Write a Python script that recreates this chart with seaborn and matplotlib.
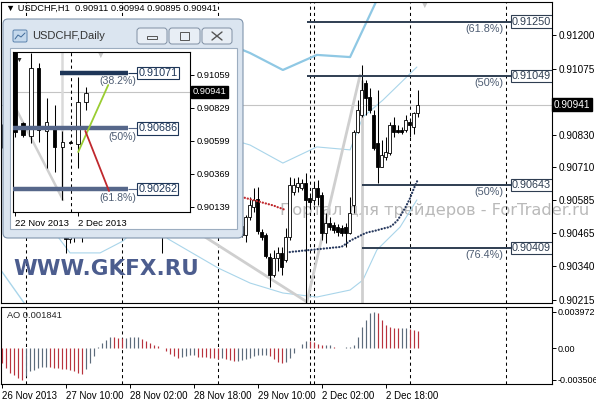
import matplotlib
matplotlib.use("Agg")
import matplotlib.pyplot as plt
import matplotlib.transforms as mtrans
from matplotlib.patches import FancyBboxPatch
from matplotlib.lines import Line2D
import numpy as np
import pandas as pd
import seaborn as sns

# ------------------------------------------------------------------ data
# USDCHF H1 candles, bar index 0 = 26 Nov 18:00
h1_open = [0.9084, 0.9080, 0.9076, 0.9072, 0.9074, 0.9069, 0.9067, 0.9068, 0.9070, 0.9064,
           0.9060, 0.9062, 0.9058, 0.9054, 0.9051, 0.9048, 0.9049, 0.9044, 0.9052, 0.9047,
           0.9054, 0.9056, 0.9064, 0.9070, 0.9076, 0.9081, 0.9085, 0.9082, 0.9079, 0.9076,
           0.9073, 0.9075, 0.9080, 0.9073, 0.9068, 0.9065, 0.9060, 0.9057, 0.9052, 0.9049,
           0.9047, 0.9048, 0.9053, 0.9051, 0.9055, 0.9052, 0.9056, 0.9059, 0.9057, 0.9060,
           0.9058, 0.9055, 0.9057, 0.9053, 0.9056, 0.9058, 0.9063, 0.9057, 0.9052, 0.9054,
           0.9049, 0.90457, 0.90524, 0.90561, 0.90590, 0.90468, 0.90455, 0.90375, 0.90308, 0.90371,
           0.90390, 0.90364, 0.90449, 0.90616, 0.90635, 0.90631, 0.90650, 0.90594, 0.90587, 0.90631,
           0.90605, 0.90464, 0.90501, 0.90494, 0.90486, 0.90483, 0.90486, 0.90464, 0.90568, 0.90839,
           0.90903, 0.91022, 0.90970, 0.90903, 0.90799, 0.90709, 0.90747, 0.90761, 0.90865, 0.90847,
           0.90847, 0.90847, 0.90877, 0.90858, 0.90911]
h1_high = [0.9087, 0.9083, 0.9079, 0.9077, 0.9076, 0.9072, 0.9071, 0.9073, 0.9072, 0.9067,
           0.9064, 0.9066, 0.9061, 0.9058, 0.9055, 0.9052, 0.9050, 0.9054, 0.9057, 0.9056,
           0.9058, 0.9066, 0.9072, 0.9078, 0.9084, 0.9088, 0.9090, 0.9087, 0.9084, 0.9080,
           0.9078, 0.9085, 0.9083, 0.9077, 0.9072, 0.9069, 0.9064, 0.9061, 0.9056, 0.9053,
           0.9050, 0.9055, 0.9058, 0.9057, 0.9060, 0.9058, 0.9062, 0.9064, 0.9063, 0.9065,
           0.9062, 0.9060, 0.9061, 0.9059, 0.9062, 0.9067, 0.9066, 0.9060, 0.9056, 0.9057,
           0.9053, 0.90531, 0.90598, 0.90631, 0.90635, 0.90479, 0.90464, 0.90390, 0.90401, 0.90412,
           0.90412, 0.90483, 0.90672, 0.90668, 0.90672, 0.90665, 0.90687, 0.90613, 0.90650, 0.90661,
           0.90616, 0.90538, 0.90524, 0.90505, 0.90498, 0.90494, 0.90501, 0.90598, 0.90847, 0.90958,
           0.91088, 0.91033, 0.91003, 0.90921, 0.90996, 0.90810, 0.90821, 0.90877, 0.90895, 0.90865,
           0.90858, 0.90903, 0.90891, 0.90914, 0.90994]
h1_low = [0.9078, 0.9074, 0.9070, 0.9068, 0.9066, 0.9065, 0.9063, 0.9064, 0.9062, 0.9058,
          0.9055, 0.9057, 0.9052, 0.9049, 0.9047, 0.9046, 0.90390, 0.90425, 0.90430, 0.9046,
          0.90430, 0.9053, 0.9061, 0.9067, 0.9072, 0.9077, 0.9079, 0.9077, 0.9073, 0.9070,
          0.9068, 0.9072, 0.9071, 0.9066, 0.9062, 0.9058, 0.9054, 0.9050, 0.9047, 0.9046,
          0.90390, 0.9047, 0.9049, 0.9048, 0.9050, 0.9048, 0.9052, 0.9054, 0.9052, 0.9055,
          0.9053, 0.9050, 0.9051, 0.9049, 0.9051, 0.9054, 0.9055, 0.9050, 0.9047, 0.9046,
          0.9045, 0.90431, 0.90512, 0.90542, 0.90460, 0.90438, 0.90371, 0.90263, 0.90300, 0.90323,
          0.90308, 0.90356, 0.90438, 0.90605, 0.90616, 0.90624, 0.90204, 0.90561, 0.90568, 0.90568,
          0.90438, 0.90427, 0.90475, 0.90464, 0.90453, 0.90453, 0.90412, 0.90460, 0.90538, 0.90836,
          0.90895, 0.90903, 0.90910, 0.90773, 0.90650, 0.90709, 0.90735, 0.90754, 0.90821, 0.90836,
          0.90832, 0.90839, 0.90821, 0.90832, 0.90895]
h1_close = [0.9080, 0.9076, 0.9072, 0.9074, 0.9069, 0.9067, 0.9068, 0.9070, 0.9064, 0.9060,
            0.9062, 0.9058, 0.9054, 0.9051, 0.9048, 0.9049, 0.9044, 0.9052, 0.9047, 0.9054,
            0.9056, 0.9064, 0.9070, 0.9076, 0.9081, 0.9085, 0.9082, 0.9079, 0.9076, 0.9073,
            0.9075, 0.9080, 0.9073, 0.9068, 0.9065, 0.9060, 0.9057, 0.9052, 0.9049, 0.9047,
            0.9048, 0.9053, 0.9051, 0.9055, 0.9052, 0.9056, 0.9059, 0.9057, 0.9060, 0.9058,
            0.9055, 0.9057, 0.9053, 0.9056, 0.9058, 0.9063, 0.9057, 0.9052, 0.9054, 0.9049,
            0.90457, 0.90524, 0.90568, 0.90587, 0.90470, 0.90449, 0.90378, 0.90308, 0.90371, 0.90390,
            0.90338, 0.90449, 0.90642, 0.90642, 0.90650, 0.90650, 0.90587, 0.90579, 0.90631, 0.90598,
            0.90464, 0.90501, 0.90486, 0.90475, 0.90468, 0.90464, 0.90464, 0.90538, 0.90839, 0.90921,
            0.90996, 0.90966, 0.90921, 0.90780, 0.90709, 0.90754, 0.90765, 0.90865, 0.90839, 0.90839,
            0.90839, 0.90884, 0.90865, 0.90910, 0.90941]

# Awesome Oscillator values per bar
ao_values = [-0.00165, -0.00220, -0.00272, -0.00300, -0.00330, -0.00351, -0.00310, -0.00255, -0.00240, -0.00222,
             -0.00210, -0.00205, -0.00208, -0.00215, -0.00220, -0.00226, -0.00232, -0.00238, -0.00250, -0.00270,
             -0.00285, -0.00230, -0.00160, -0.00085, 0.00010, 0.00055, 0.00090, 0.00120, 0.00118, 0.00112,
             0.00108, 0.00115, 0.00116, 0.00117, 0.00118, 0.00100, 0.00080, 0.00058, 0.00035, 0.00020,
             0.00002, -0.00030, -0.00065, -0.00090, -0.00110, -0.00100, -0.00090, -0.00080, -0.00078, -0.00095,
             -0.00098, -0.00100, -0.00108, -0.00110, -0.00120, -0.00115, -0.00120, -0.00135, -0.00140, -0.00138,
             -0.00132, -0.00120, -0.00105, -0.00088, -0.00080, -0.00075, -0.00072, -0.00085, -0.00120, -0.00150,
             -0.00165, -0.00155, -0.00110, -0.00055, 0.00005, 0.00045, 0.00078, 0.00072, 0.00066, 0.00045,
             0.00030, 0.00031, 0.00032, 0.00012, 0.00005, 0.00003, 0.00006, 0.00010, 0.00037, 0.00117,
             0.00227, 0.00312, 0.00390, 0.003972, 0.00390, 0.00310, 0.00257, 0.00229, 0.00220, 0.00219,
             0.00220, 0.00222, 0.00212, 0.00200, 0.001841]

# Parabolic SAR
sar_down_idx = list(range(60, 72))
sar_down = [0.90598, 0.90594, 0.90590, 0.90586, 0.90582, 0.90578, 0.90574, 0.90570, 0.90566, 0.90560,
            0.90555, 0.90549]
sar_up_idx = list(range(72, 105))
sar_up = [0.90393, 0.90395, 0.90396, 0.90398, 0.90399, 0.90401, 0.90402, 0.90404, 0.90405, 0.90407,
          0.90408, 0.90410, 0.90411, 0.90413, 0.90423, 0.90434, 0.90442, 0.90449, 0.90457, 0.90464,
          0.90468, 0.90471, 0.90475, 0.90479, 0.90483, 0.90486, 0.90497, 0.90512, 0.90535, 0.90561,
          0.90590, 0.90628, 0.90661]

# band lines (bar index, price)
band_upper_idx = [58, 60.3, 62.1, 70.3, 78.8, 87.1, 93.8]
band_upper = [0.91170, 0.91144, 0.91133, 0.91070, 0.91126, 0.91118, 0.91330]
band_mid_idx = [58, 60.3, 62.1, 70.3, 78.8, 87.1, 90.3, 95.3, 103.8]
band_mid = [0.90810, 0.90799, 0.90791, 0.90724, 0.90784, 0.90773, 0.90895, 0.90958, 0.91081]
band_low_idx = [8, 13.8, 17.1, 24.6, 30.3, 36.5, 41.6, 54.1, 62.1, 70.3, 78.8, 87.1, 90.3, 93.8, 99.6, 103.8]
band_low = [0.90600, 0.90455, 0.90390, 0.90390, 0.90434, 0.90520, 0.90442, 0.90334, 0.90278, 0.90241,
            0.90226, 0.90252, 0.90289, 0.90401, 0.90486, 0.90587]
band_outer_idx = [-0.4, 5.8, 12]
band_outer = [0.90330, 0.90200, 0.90120]

# gray anchor lines of the Fibonacci tool
trend_a_idx = [39.6, 51.6, 76.3]
trend_a = [0.90557, 0.90442, 0.90208]
trend_b_idx = [76.3, 89.6]
trend_b = [0.90208, 0.91051]
anchor_idx = 90.1
anchor_range = [0.90204, 0.91033]

fib_levels = [0.91250, 0.91049, 0.90643, 0.90409]
fib_start = [76.3, 76.3, 90.1, 90.1]
fib_end = 127.6
fib_pct = ['(61.8%)', '(50%)', '(50%)', '(76.4%)']

sep_idx = [6, 30, 54, 77, 78, 102, 126]
date_idx = [0, 16, 32, 48, 64, 80, 96]
date_labels = ['26 Nov 2013', '27 Nov 10:00', '28 Nov 02:00', '28 Nov 18:00',
               '29 Nov 10:00', '2 Dec 02:00', '2 Dec 18:00']
price_ticks = [0.91200, 0.91075, 0.90830, 0.90710, 0.90585, 0.90465, 0.90340, 0.90215]
last_price = 0.90941
ao_ticks = [0.003972, 0.0, -0.003506]
ao_tick_labels = ['0.003972', '0.00', '-0.003506']

# Daily inset
d_open = [0.91250, 0.90724, 0.90634, 0.91108, 0.90669, 0.90697, 0.90557, 0.90592, 0.90578, 0.90871]
d_high = [0.91350, 0.90730, 0.91212, 0.91143, 0.90899, 0.90850, 0.90669, 0.90600, 0.91045, 0.90975]
d_low = [0.90630, 0.90630, 0.90585, 0.90592, 0.90411, 0.90383, 0.90188, 0.90580, 0.90411, 0.90815]
d_close = [0.90660, 0.90641, 0.91108, 0.90676, 0.90731, 0.90557, 0.90592, 0.90585, 0.90871, 0.90934]
d_fib_levels = [0.91071, 0.90686, 0.90262]
d_fib_start = [5.7, -0.3, -0.3]
d_fib_end = 14.3
d_fib_pct = ['(38.2%)', '(50%)', '(61.8%)']
d_ticks = [0.91059, 0.90829, 0.90599, 0.90369, 0.90139]
d_date_idx = [0, 8]
d_date_labels = ['22 Nov 2013', '2 Dec 2013']
d_green = ([8.0, 11.8], [0.90522, 0.90989])
d_red = ([8.9, 11.9], [0.90669, 0.90250])

# ------------------------------------------------------------------ style
sns.set_theme(style="white")
plt.rcParams['font.family'] = ['Liberation Sans', 'DejaVu Sans']
plt.rcParams['axes.linewidth'] = 0.8
FS = 7.0
W, H = 596, 400

fig = plt.figure(figsize=(W / 100, H / 100), dpi=100, facecolor='white')


def frac(x0, y0, x1, y1):
    return [x0 / W, 1 - y1 / H, (x1 - x0) / W, (y1 - y0) / H]


def candles(ax, x, o, h, l, c, width, lw_wick, lw_body, tiny):
    x = np.asarray(x, float)
    o, h, l, c = (np.asarray(a, float) for a in (o, h, l, c))
    ax.vlines(x, l, h, color='black', lw=lw_wick, zorder=3)
    up = c >= o
    ax.bar(x, np.maximum(np.abs(c - o), tiny), bottom=np.minimum(o, c), width=width,
           color=np.where(up, 'white', 'black'), edgecolor='black', linewidth=lw_body, zorder=4)


def style_axes(ax):
    for s in ax.spines.values():
        s.set_color('black')
        s.set_linewidth(0.8)
        s.set_visible(True)


# ------------------------------------------------------------------ main chart
ax = fig.add_axes(frac(1, 2, 552, 303))
ax2 = fig.add_axes(frac(1, 307, 552, 384), sharex=ax)
xmin = (1 - 1.67) / 4
ax.set_xlim(xmin, xmin + 551 / 4)
ax.set_ylim(0.902038, 0.913227)
ax2.set_ylim(-0.00396, 0.00451)
for a in (ax, ax2):
    style_axes(a)
    a.set_facecolor('white')

idx = np.arange(len(h1_open))
df = pd.DataFrame({'i': idx, 'o': h1_open, 'h': h1_high, 'l': h1_low, 'c': h1_close, 'ao': ao_values})

# watermark behind candles
ax.text(280 / W, 1 - 211 / H, 'Портал для трейдеров - ForTrader.ru', transform=fig.transFigure,
        fontsize=11.7, family='DejaVu Sans', color='#a8a8a8', alpha=0.8, va='center', ha='left',
        zorder=1, clip_on=False)

# separators
for a in (ax, ax2):
    for s in sep_idx:
        a.axvline(s, color='black', lw=0.75, ls=(0, (3, 3)), zorder=2)

# current price line
ax.axhline(last_price, color='#c4c4c4', lw=0.8, zorder=1.5)

# bands
sns.lineplot(x=band_upper_idx, y=band_upper, ax=ax, color='#8fc8e4', lw=1.6, zorder=2, sort=False)
sns.lineplot(x=band_mid_idx, y=band_mid, ax=ax, color='#a9d5ea', lw=0.8, zorder=2, sort=False)
sns.lineplot(x=band_low_idx, y=band_low, ax=ax, color='#a9d5ea', lw=0.8, zorder=2, sort=False)
sns.lineplot(x=band_outer_idx, y=band_outer, ax=ax, color='#a9d5ea', lw=1.0, zorder=2, sort=False)

# gray fib anchor lines
sns.lineplot(x=trend_a_idx, y=trend_a, ax=ax, color='#cfcfcf', lw=2.0, zorder=2, sort=False)
sns.lineplot(x=trend_b_idx, y=trend_b, ax=ax, color='#cfcfcf', lw=2.0, zorder=2, sort=False)
ax.vlines(anchor_idx, anchor_range[0], anchor_range[1], color='#cfcfcf', lw=2.0, zorder=2)

# candles
candles(ax, df['i'], df['o'], df['h'], df['l'], df['c'], 0.6, 0.75, 0.6, 0.00002)

# SAR
sns.lineplot(x=sar_down_idx, y=sar_down, ax=ax, color='#c0282d', lw=1.6,
             linestyle=(0, (0.1, 1.3)), dash_capstyle='round', zorder=5)
sns.lineplot(x=sar_up_idx, y=sar_up, ax=ax, color='#27395e', lw=1.6,
             linestyle=(0, (0.1, 1.3)), dash_capstyle='round', zorder=5)

# fibonacci levels
fib_col = '#2f3e52'
for lev, st, pct in zip(fib_levels, fib_start, fib_pct):
    ax.hlines(lev, st, fib_end, color=fib_col, lw=1.4, zorder=6)
    ax.text(fib_end, lev, f'{lev:.5f}', ha='left', va='center', fontsize=7.8, color=fib_col,
            bbox=dict(boxstyle='square,pad=0.1', fc='white', ec=fib_col, lw=0.8), zorder=7, clip_on=True)
    ax.text(125.5, lev - 0.00028, pct, ha='right', va='center', fontsize=7.8, color='#4d5c72', zorder=7)

# chart-shift marker
ax.text(105.6, 0.91312, '▼', color='#c8c8c8', fontsize=7, ha='center', va='center', zorder=2)

# price axis
ax.yaxis.tick_right()
ax.set_yticks(price_ticks)
ax.set_yticklabels([f'{v:.5f}' for v in price_ticks])
ax.tick_params(axis='y', which='both', right=True, length=3, width=0.7, pad=1.5, labelsize=7.2, colors='black')
ax.tick_params(axis='x', bottom=False, labelbottom=False)
ax.set_xlabel('')
ax.set_ylabel('')
ax.text(1 + 2 / 551, last_price, f'{last_price:.5f}', transform=mtrans.blended_transform_factory(ax.transAxes, ax.transData),
        ha='left', va='center', fontsize=7.2, color='white',
        bbox=dict(boxstyle='square,pad=0.18', fc='black', ec='black'), clip_on=False, zorder=10)

# AO histogram
ao_arr = df['ao'].to_numpy()
ao_prev = np.concatenate([[ao_arr[0] + 1], ao_arr[:-1]])
ao_cols = np.where(ao_arr > ao_prev, '#5c6b7b', '#b8323d')
ax2.vlines(df['i'], 0, ao_arr, colors=ao_cols, lw=0.85, zorder=3)
ax2.yaxis.tick_right()
ax2.set_yticks(ao_ticks)
ax2.set_yticklabels(ao_tick_labels)
ax2.tick_params(axis='y', right=True, length=3, width=0.7, pad=0.8, labelsize=6.5, colors='black')
ax2.set_xticks(date_idx)
ax2.set_xticklabels(date_labels, ha='left')
ax2.tick_params(axis='x', bottom=True, length=3, width=0.7, pad=2, labelsize=FS, colors='black')
ax2.set_xlabel('')
ax2.set_ylabel('')
ax2.text(6 / 551, 1 - 9 / 77, 'AO 0.001841', transform=ax2.transAxes, fontsize=6.7, va='center', ha='left')

# header
fig.text(6 / W, 1 - 8 / H, '▼ USDCHF,H1  0.90911 0.90994 0.90895 0.90941', fontsize=6.7,
         va='center', ha='left', color='black', zorder=3)

# GKFX watermark
fig.text(13 / W, 1 - 269 / H, 'WWW.GKFX.RU', fontsize=15.5, fontweight='bold', family='DejaVu Sans',
         color='#4c5d8e', va='center', ha='left', zorder=3)

# ------------------------------------------------------------------ inset window
inch = fig.dpi_scale_trans


def box_px(x0, y0, x1, y1, **kw):
    return FancyBboxPatch((x0 / 100, (H - y1) / 100), (x1 - x0) / 100, (y1 - y0) / 100,
                          transform=inch, **kw)


fig.add_artist(box_px(3, 19, 243, 238, boxstyle='round,pad=0,rounding_size=0.05',
                      fc='#dbe5f0', ec='#8095ad', lw=0.8, zorder=5))
fig.add_artist(box_px(10, 48, 237, 229, boxstyle='square,pad=0', fc='white', ec='#9cadc0', lw=0.8, zorder=5.5))
# icon
fig.add_artist(box_px(13, 30, 27, 42, boxstyle='round,pad=0,rounding_size=0.015', fc='#c4d8ec', ec='#5b82ad', lw=0.7, zorder=6))
fig.add_artist(Line2D([15 / 100, 18 / 100, 21 / 100, 25 / 100], [(H - 39) / 100, (H - 35) / 100, (H - 37) / 100, (H - 33) / 100],
                      transform=inch, color='#3f6a99', lw=0.7, zorder=6.5))
fig.text(32 / W, 1 - 36 / H, 'USDCHF,Daily', fontsize=8.0, color='#333333', va='center', ha='left', zorder=8)
# buttons
for bx0, bx1 in [(137, 167), (169, 200), (202, 232)]:
    fig.add_artist(box_px(bx0, 28, bx1, 44, boxstyle='round,pad=0,rounding_size=0.03',
                          fc='#e8eef5', ec='#7f8fa3', lw=0.7, zorder=6))
fig.add_artist(box_px(147, 36, 157, 39, boxstyle='square,pad=0', fc='none', ec='#555555', lw=0.7, zorder=6.5))
fig.add_artist(box_px(180, 32, 189, 40, boxstyle='square,pad=0', fc='none', ec='#555555', lw=0.7, zorder=6.5))
fig.add_artist(Line2D([212 / 100, 222 / 100], [(H - 32) / 100, (H - 40) / 100], transform=inch, color='#555555', lw=1.0, zorder=6.5))
fig.add_artist(Line2D([212 / 100, 222 / 100], [(H - 40) / 100, (H - 32) / 100], transform=inch, color='#555555', lw=1.0, zorder=6.5))

axi = fig.add_axes(frac(13, 52, 190, 212), zorder=7)
style_axes(axi)
axi.set_facecolor('white')
axi.set_xlim(-0.253, 22.15)
axi.set_ylim(0.90104, 0.91219)
axi.axvline(7.1, color='black', lw=0.75, ls=(0, (3, 3)), zorder=2)
axi.axhline(last_price, color='#c4c4c4', lw=0.8, zorder=1.5)
sns.lineplot(x=[-0.25, 6.08], y=[0.90864, 0.90188], ax=axi, color='#d0d0d0', lw=1.8, zorder=1.6, sort=False)
axi.vlines(5.95, 0.90188, 0.91219, color='#dadada', lw=1.8, zorder=1.6)
axi.text(10.8, 0.91200, '▼', color='#c8c8c8', fontsize=7, ha='center', va='center', zorder=2)
axi.text(0.035, 0.95, '▼', transform=axi.transAxes, fontsize=5, ha='center', va='center', zorder=9)

dd = np.arange(len(d_open))
candles(axi, dd, d_open, d_high, d_low, d_close, 0.45, 0.75, 0.6, 0.00003)

d_cols = ['#1e3658', '#56678a', '#56678a']
for lev, st, pct, col in zip(d_fib_levels, d_fib_start, d_fib_pct, d_cols):
    axi.hlines(lev, st, d_fib_end, color=col, lw=3.2, zorder=5)
    axi.hlines(lev, d_fib_end, 15.6, color=col, lw=0.8, zorder=5)
    axi.text(15.6, lev, f'{lev:.5f}', ha='left', va='center', fontsize=7.8, color='#1e3658',
             bbox=dict(boxstyle='square,pad=0.1', fc='white', ec='#1e3658', lw=0.8), zorder=6)
    axi.text(15.3, lev - 0.00057, pct, ha='right', va='center', fontsize=7.6, color='#4d5c72', zorder=6)

sns.lineplot(x=d_green[0], y=d_green[1], ax=axi, color='#9acd32', lw=1.3, zorder=6, sort=False)
sns.lineplot(x=d_red[0], y=d_red[1], ax=axi, color='#c0282d', lw=1.3, zorder=6, sort=False)

axi.yaxis.tick_right()
axi.set_yticks(d_ticks)
axi.set_yticklabels([f'{v:.5f}' for v in d_ticks])
axi.tick_params(axis='y', right=True, length=3, width=0.7, pad=2, labelsize=6.7, colors='black')
axi.set_xticks(d_date_idx)
axi.set_xticklabels(d_date_labels, ha='left')
axi.tick_params(axis='x', bottom=True, length=3, width=0.7, pad=2, labelsize=6.8, colors='black')
axi.set_xlabel('')
axi.set_ylabel('')
axi.text(1 + 3 / 177, last_price, f'{last_price:.5f}', transform=mtrans.blended_transform_factory(axi.transAxes, axi.transData),
         ha='left', va='center', fontsize=6.7, color='white',
         bbox=dict(boxstyle='square,pad=0.18', fc='black', ec='black'), clip_on=False, zorder=10)

fig.savefig('out.png', dpi=100, facecolor='white')
